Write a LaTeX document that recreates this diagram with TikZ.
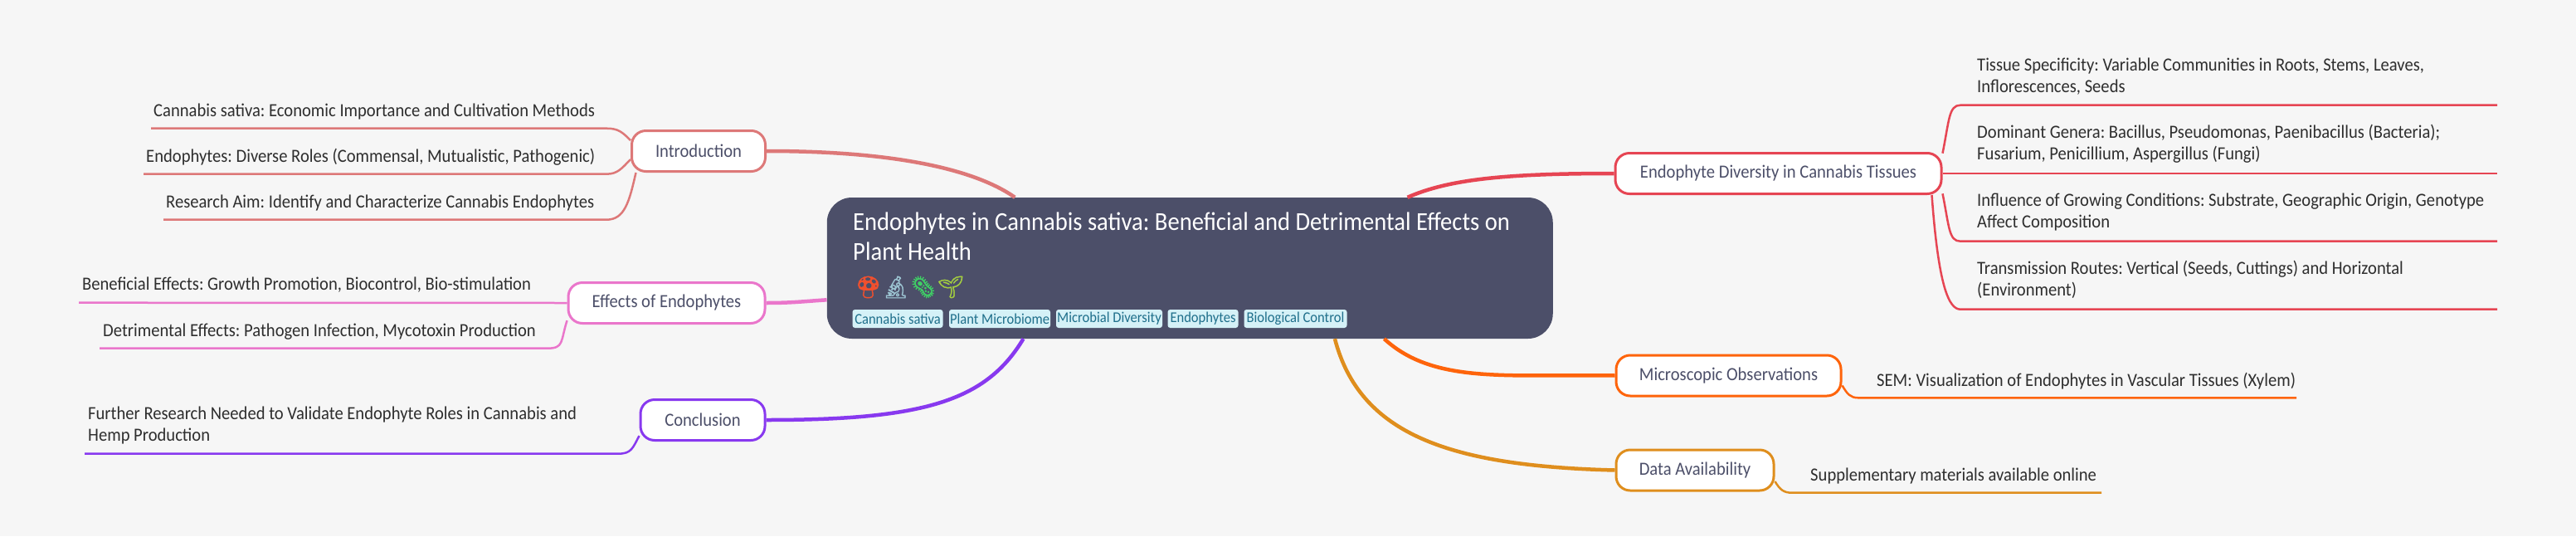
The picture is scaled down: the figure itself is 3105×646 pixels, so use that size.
\documentclass[tikz,border=0pt]{standalone}
\usepackage{fontspec}
\setmainfont[FakeStretch=0.92]{Carlito}
\newfontfamily\emojifont[FakeBold=1.5]{Noto Emoji}
\frenchspacing
\definecolor{pagebg}{HTML}{F6F6F6}
\definecolor{rootcol}{HTML}{4C4F69}
\definecolor{flamingo}{HTML}{DD7878}
\definecolor{pinkish}{HTML}{EA76CB}
\definecolor{mauve}{HTML}{8839EF}
\definecolor{maroon}{HTML}{E64553}
\definecolor{peach}{HTML}{FE640B}
\definecolor{amber}{HTML}{DF8E1D}
\definecolor{tagbg}{HTML}{D5F1F7}
\definecolor{tagtext}{HTML}{1F6F8B}
\definecolor{mushroom}{HTML}{F0502E}
\definecolor{scope}{HTML}{9CC4D2}
\definecolor{microbe}{HTML}{3FD065}
\definecolor{sprout}{HTML}{A5D040}
\tikzset{
  rootbox/.style={fill=rootcol,rounded corners=30pt,inner sep=0pt,minimum width=875pt,minimum height=170pt},
  topicbox/.style={draw,fill=white,line width=3pt,rounded corners=17pt,inner sep=0pt,minimum height=49pt,text=rootcol,font=\fontsize{22.4}{28}\selectfont},
  leaftext/.style={inner sep=0pt,anchor=base west,text=black!82,align=left,font=\fontsize{22.4}{26}\selectfont},
  tagbox/.style={fill=tagbg,rounded corners=3pt,inner sep=0pt,minimum height=22pt,text=tagtext,font=\fontsize{18}{22}\selectfont},
  branch/.style={line width=4.5pt},
  twig/.style={line width=2.5pt},
}
\begin{document}
\begin{tikzpicture}[x=1pt,y=-1pt]
\useasboundingbox[fill=pagebg] (0,0) rectangle (3105,646);

\node (root) [rootbox] at (1434.25,323) {};
\node (title) [inner sep=0pt,anchor=base west,text=white,align=left,font=\fontsize{31.1}{36}\selectfont] at (1028,313)
  {Endophytes in Cannabis sativa: Beneficial and Detrimental Effects on\\Plant Health};
\node (icons) [inner sep=0pt,anchor=west,font=\fontsize{26}{28}\selectfont\emojifont] at (1030,346)
  {\textcolor{mushroom}{🍄}\textcolor{scope}{🔬}\textcolor{microbe}{🦠}\textcolor{sprout}{🌱}};

\node (tagA) [tagbox,minimum width=109pt] at (1082,384) {Cannabis sativa};
\node (tagB) [tagbox,minimum width=122pt] at (1205,384) {Plant Microbiome};
\node (tagC) [tagbox,minimum width=128pt] at (1337,384) {Microbial Diversity};
\node (tagD) [tagbox,minimum width=85pt] at (1450,384) {Endophytes};
\node (tagE) [tagbox,minimum width=124pt] at (1561.5,384) {Biological Control};

\node (intro) [topicbox,draw=flamingo,minimum width=161pt] at (842,182) {Introduction};
\node (effects) [topicbox,draw=pinkish,minimum width=237pt] at (803.5,365) {Effects of Endophytes};
\node (concl) [topicbox,draw=mauve,minimum width=150pt] at (847,506) {Conclusion};
\node (divers) [topicbox,draw=maroon,minimum width=393pt] at (2143.5,209) {Endophyte Diversity in Cannabis Tissues};
\node (micro) [topicbox,draw=peach,minimum width=271pt] at (2083.5,452.5) {Microscopic Observations};
\node (data) [topicbox,draw=amber,minimum width=190pt] at (2043,566.5) {Data Availability};

\draw [branch,flamingo] (intro.east) .. controls +(150,0) and +(-50,-35) .. (root.158.8);
\draw [branch,pinkish] (effects.east) .. controls +(30,0) and +(-30,2) .. (root.185.2);
\draw [branch,mauve] (concl.east) .. controls +(190,0) and +(-45,75) .. (root.203.8);
\draw [branch,maroon] (divers.west) .. controls +(-130,0) and +(50,-22) .. (root.18.2);
\draw [branch,peach] (micro.west) .. controls +(-130,-2) and +(60,55) .. (root.-20.3);
\draw [branch,amber] (data.west) .. controls +(-200,-5) and +(30,115) .. (root.-26.6);

\node (introA) [leaftext] at (185,140) {Cannabis sativa: Economic Importance and Cultivation Methods};
\node (introB) [leaftext] at (176,195) {Endophytes: Diverse Roles (Commensal, Mutualistic, Pathogenic)};
\node (introC) [leaftext] at (200,250) {Research Aim: Identify and Characterize Cannabis Endophytes};
\node (effectsA) [leaftext] at (99,349) {Beneficial Effects: Growth Promotion, Biocontrol, Bio-stimulation};
\node (effectsB) [leaftext] at (124,405) {Detrimental Effects: Pathogen Infection, Mycotoxin Production};
\node (conclA) [leaftext] at (106,531) {Further Research Needed to Validate Endophyte Roles in Cannabis and\\Hemp Production};
\node (diversA) [leaftext] at (2383,111) {Tissue Specificity: Variable Communities in Roots, Stems, Leaves,\\Inflorescences, Seeds};
\node (diversB) [leaftext] at (2383,192.5) {Dominant Genera: Bacillus, Pseudomonas, Paenibacillus (Bacteria);\\Fusarium, Penicillium, Aspergillus (Fungi)};
\node (diversC) [leaftext] at (2383,274) {Influence of Growing Conditions: Substrate, Geographic Origin, Genotype\\Affect Composition};
\node (diversD) [leaftext] at (2383,356) {Transmission Routes: Vertical (Seeds, Cuttings) and Horizontal\\(Environment)};
\node (microA) [leaftext] at (2262,465) {SEM: Visualization of Endophytes in Vascular Tissues (Xylem)};
\node (dataA) [leaftext] at (2182,579) {Supplementary materials available online};

\coordinate (introAa) at (731,154.7);  \coordinate (introAb) at (182,154.7);
\coordinate (introBa) at (731,209.7);  \coordinate (introBb) at (173,209.7);
\coordinate (introCa) at (731,264.7);  \coordinate (introCb) at (197,264.7);
\coordinate (effectsBa) at (660,419.7); \coordinate (effectsBb) at (120,419.7);
\coordinate (effectsAb) at (95,364.7);
\coordinate (conclAa) at (745,546.7);  \coordinate (conclAb) at (102,546.7);
\coordinate (diversAa) at (2363,126.7); \coordinate (diversAb) at (3010,126.7);
\coordinate (diversBb) at (3010,209);
\coordinate (diversCa) at (2363,290.7); \coordinate (diversCb) at (3010,290.7);
\coordinate (diversDa) at (2363,372.7); \coordinate (diversDb) at (3010,372.7);
\coordinate (microAa) at (2240,479.3); \coordinate (microAb) at (2768,479.3);
\coordinate (dataAa) at (2160,593.7);  \coordinate (dataAb) at (2533,593.7);

\draw [twig,flamingo] (intro.171) .. controls +(-10,-10) and +(14,0) .. (introAa) -- (introAb);
\draw [twig,flamingo] (intro.187.3) .. controls +(-10,10) and +(14,0) .. (introBa) -- (introBb);
\draw [twig,flamingo] (intro.199) .. controls +(-8,35) and +(22,0) .. (introCa) -- (introCb);
\draw [twig,pinkish] (effects.west) -- (effectsAb);
\draw [twig,pinkish] (effects.190) .. controls +(-8,25) and +(20,0) .. (effectsBa) -- (effectsBb);
\draw [twig,mauve] (concl.194.8) .. controls +(-8,15) and +(16,0) .. (conclAa) -- (conclAb);
\draw [twig,maroon] (divers.7.6) .. controls +(8,-40) and +(-14,0) .. (diversAa) -- (diversAb);
\draw [twig,maroon] (divers.east) -- (diversBb);
\draw [twig,maroon] (divers.-7.7) .. controls +(8,40) and +(-14,0) .. (diversCa) -- (diversCb);
\draw [twig,maroon] (divers.-8) .. controls +(8,110) and +(-14,0) .. (diversDa) -- (diversDb);
\draw [twig,peach] (micro.-5.7) .. controls +(6,10) and +(-10,0) .. (microAa) -- (microAb);
\draw [twig,amber] (data.-8) .. controls +(6,10) and +(-10,0) .. (dataAa) -- (dataAb);
\end{tikzpicture}
\end{document}
